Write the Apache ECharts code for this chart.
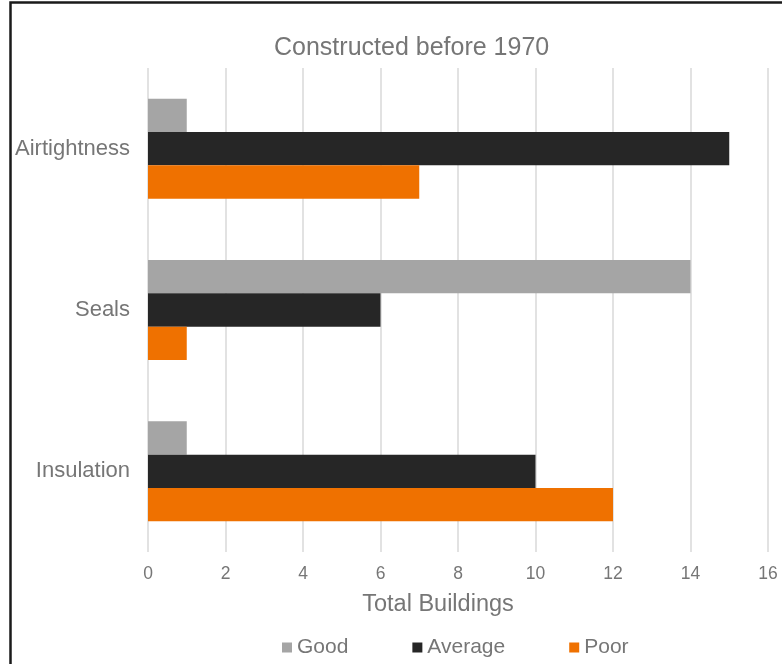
<!DOCTYPE html>
<html>
<head>
<meta charset="utf-8">
<script src="https://cdn.jsdelivr.net/npm/echarts@6/dist/echarts.min.js"></script>
<style>
html,body{margin:0;padding:0;background:#fff;}
#chart{width:782px;height:664px;}
</style>
</head>
<body>
<div id="chart"></div>
<script>
const categories = ['Airtightness', 'Seals', 'Insulation'];
const seriesNames = ['Good', 'Average', 'Poor'];
const goodValues = [1, 14, 1];
const averageValues = [15, 6, 10];
const poorValues = [7, 1, 12];
const xTicks = [0, 2, 4, 6, 8, 10, 12, 14, 16];

const FONT = '"Liberation Sans", Arial, sans-serif';
const chart = echarts.init(document.getElementById('chart'), null, {renderer: 'canvas'});
const colors = ['#A5A5A5', '#262626', '#EF7100'];
const values = [goodValues, averageValues, poorValues];

chart.setOption({
  animation: false,
  backgroundColor: '#fff',
  title: {
    text: 'Constructed before 1970',
    left: 274,
    top: 36,
    padding: 0,
    textStyle: {color: '#767676', fontSize: 25, fontWeight: 'normal', fontFamily: FONT}
  },
  legend: {
    data: seriesNames,
    left: 282,
    top: 637,
    padding: 0,
    icon: 'rect',
    itemWidth: 10,
    itemHeight: 10,
    itemGap: 64,
    textStyle: {color: '#767676', fontSize: 21, fontFamily: FONT}
  },
  grid: {left: 148, right: 14, top: 68, bottom: 112, containLabel: false},
  xAxis: {
    type: 'value',
    min: xTicks[0],
    max: xTicks[xTicks.length - 1],
    interval: 2,
    axisLine: {show: false},
    axisTick: {show: false},
    splitLine: {show: true, lineStyle: {color: '#D9D9D9', width: 1.5}},
    axisLabel: {color: '#767676', fontSize: 17.5, fontFamily: FONT, margin: 13},
    name: 'Total Buildings',
    nameLocation: 'middle',
    nameGap: 41,
    nameTextStyle: {color: '#767676', fontSize: 23.5, fontFamily: FONT, padding: [0, 40, 0, 0]}
  },
  yAxis: {
    type: 'category',
    inverse: true,
    data: categories,
    axisLine: {show: false},
    axisTick: {show: false},
    axisLabel: {color: '#767676', fontSize: 22, fontFamily: FONT, margin: 18}
  },
  graphic: [{
    type: 'rect',
    shape: {x: 10.5, y: 2.5, width: 900, height: 900},
    style: {fill: 'none', stroke: '#1a1a1a', lineWidth: 2.5},
    silent: true,
    z: 100
  }],
  series: seriesNames.map((name, i) => ({
    name: name,
    type: 'bar',
    data: values[i],
    itemStyle: {color: colors[i]},
    barGap: '0%',
    barCategoryGap: '38%'
  }))
});
</script>
</body>
</html>
